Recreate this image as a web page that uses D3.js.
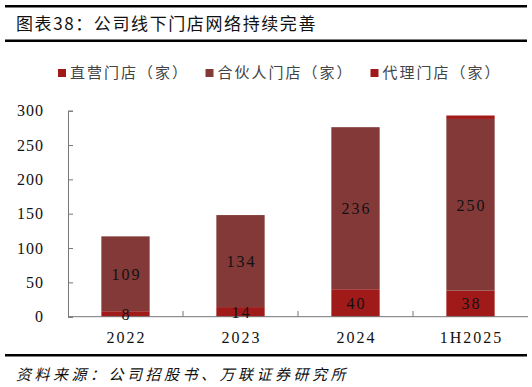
<!DOCTYPE html>
<html><head><meta charset="utf-8">
<script src="https://cdn.jsdelivr.net/npm/d3@7"></script>
<style>
body{margin:0;background:#fff;}
svg{display:block;}
</style></head>
<body><svg id="c" width="532" height="387"></svg>
<script>
const categories = ["2022","2023","2024","1H2025"];
const seriesNames = ["直营门店（家）","合伙人门店（家）","代理门店（家）"];
const directStores = [8,14,40,38];
const partnerStores = [109,134,236,250];
const agentStores = [0,0,0,5];
const yTicks = [0,50,100,150,200,250,300];
const colors = ["#A11A1A","#833938","#A11A1A"];

const svg = d3.select("#c");
const serif = "'Liberation Serif','Times New Roman',serif";
const cjk = "'Noto Sans CJK SC',sans-serif";

// header lines
svg.append("rect").attr("x",5).attr("y",5).attr("width",522).attr("height",2.5).attr("fill","#000");
svg.append("rect").attr("x",5).attr("y",39.5).attr("width",522).attr("height",2.5).attr("fill","#000");
svg.append("rect").attr("x",5).attr("y",354).attr("width",522).attr("height",2.5).attr("fill","#000");
svg.append("text").attr("x",16).attr("y",30).attr("font-family",cjk).attr("font-size",17)
  .attr("letter-spacing",1.6).attr("fill","#111").text("图表38：公司线下门店网络持续完善");
svg.append("text").attr("x",16).attr("y",380).attr("font-family",cjk).attr("font-size",15)
  .attr("letter-spacing",3.5).attr("font-style","italic").attr("fill","#111").text("资料来源：公司招股书、万联证券研究所");

const x = d3.scaleBand().domain(categories).range([68,528]).paddingInner(0.58).paddingOuter(0.29);
const y = d3.scaleLinear().domain([0,300]).range([316.7,110.7]);

const data = categories.map((c,i)=>({cat:c, s0:directStores[i], s1:partnerStores[i], s2:agentStores[i]}));
const stack = d3.stack().keys(["s0","s1","s2"])(data);

// axes
const ya = svg.append("g").attr("transform","translate(68,0)")
  .call(d3.axisRight(y).tickValues(yTicks).tickSize(5).tickFormat(""));
ya.select(".domain").attr("stroke","#777");
ya.selectAll(".tick line").attr("stroke","#777");
svg.append("g").selectAll("text").data(yTicks).join("text")
  .attr("x",44).attr("y",d=>y(d)).attr("dy","0.36em").attr("text-anchor","end")
  .attr("font-family",serif).attr("font-size",16).attr("letter-spacing",1).attr("fill","#111")
  .text(d=>d);

const groups = svg.append("g").selectAll("g").data(stack).join("g").attr("fill",(d,i)=>colors[i]);
groups.selectAll("rect").data(d=>d).join("rect")
  .attr("x",d=>x(d.data.cat)).attr("width",x.bandwidth())
  .attr("y",d=>y(d[1])).attr("height",d=>y(d[0])-y(d[1]));

// x axis
const step = x.step();
const xa = svg.append("g");
xa.append("line").attr("x1",68).attr("x2",528).attr("y1",316.7).attr("y2",316.7).attr("stroke","#777");
const bounds = categories.slice(1).map(c=>x(c)-x.paddingInner()*step/2);
xa.selectAll(".t").data(bounds).join("line").attr("x1",d=>d).attr("x2",d=>d)
  .attr("y1",311).attr("y2",316.7).attr("stroke","#777");
xa.selectAll("text").data(categories).join("text")
  .attr("x",d=>x(d)+x.bandwidth()/2+1).attr("y",337).attr("dy","0.36em").attr("text-anchor","middle")
  .attr("font-family",serif).attr("font-size",16).attr("letter-spacing",2).attr("fill","#111").text(d=>d);

// labels
[0,1].forEach(k=>{
  svg.append("g").selectAll("text").data(stack[k]).join("text")
    .attr("x",d=>x(d.data.cat)+x.bandwidth()/2+1).attr("y",d=>(y(d[0])+y(d[1]))/2).attr("dy","0.36em")
    .attr("text-anchor","middle").attr("font-family",serif).attr("font-size",16).attr("letter-spacing",2)
    .attr("fill","#111").text(d=>d[1]-d[0]);
});

// legend
const legX = [58,205.5,370.5];
const lg = svg.append("g").selectAll("g").data(seriesNames).join("g")
  .attr("transform",(d,i)=>`translate(${legX[i]},73)`);
lg.append("rect").attr("x",0).attr("y",-4).attr("width",8).attr("height",8).attr("fill",(d,i)=>colors[i]);
lg.append("text").attr("x",12).attr("y",0).attr("dy","0.36em").attr("font-family",cjk).attr("font-size",15)
  .attr("letter-spacing",2).attr("fill","#444").text(d=>d);
</script></body></html>
